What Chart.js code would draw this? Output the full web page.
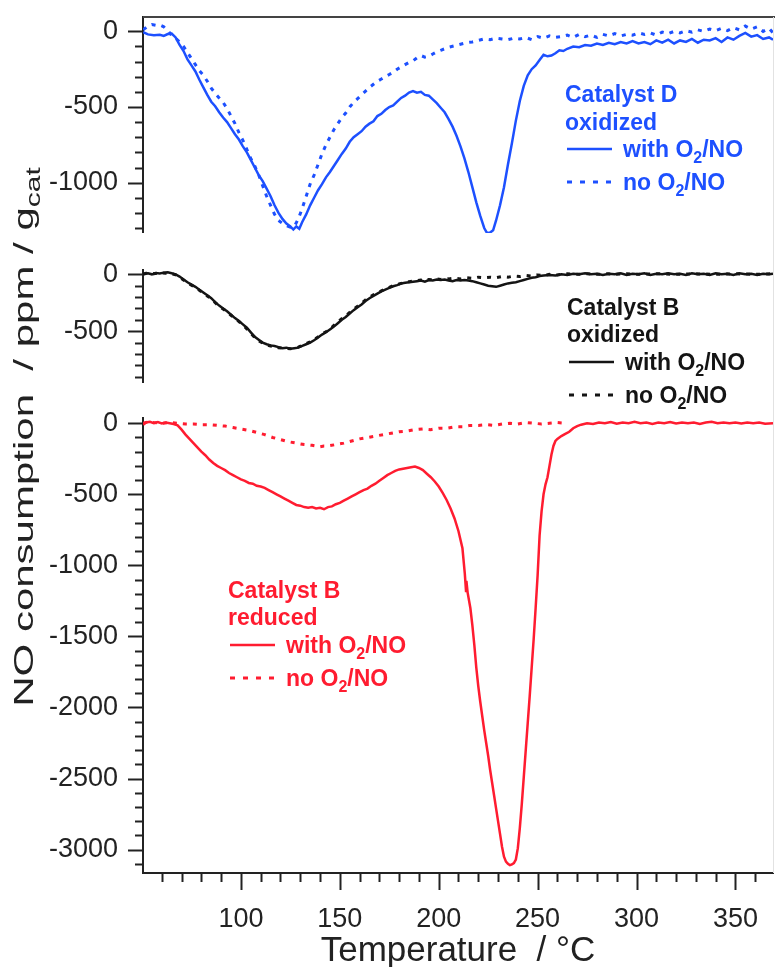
<!DOCTYPE html>
<html>
<head>
<meta charset="utf-8">
<script src="https://cdn.jsdelivr.net/npm/chart.js@4.4.0/dist/chart.umd.min.js"></script>
<style>
  html, body { margin: 0; padding: 0; background: #fff; }
  #wrap { width: 775px; height: 967px; }
</style>
</head>
<body>
<div id="wrap"><canvas id="noChart" width="775" height="967"></canvas></div>
<script>
// temperature axis
const tempMin = 50.5;
const tempMax = 369;
const tempLabels = [100, 150, 200, 250, 300, 350];
const tempMinor = [60, 70, 80, 90, 100, 110, 120, 130, 140, 150, 160, 170, 180, 190, 200, 210, 220, 230, 240, 250,
  260, 270, 280, 290, 300, 310, 320, 330, 340, 350, 360];

// NO consumption axes (ppm / g_cat), one per panel
const topRange = [-1333, 95];
const midRange = [-947, 38];
const botRange = [-3165, 37];
const topLabels = [0, -500, -1000];
const midLabels = [0, -500];
const botLabels = [0, -500, -1000, -1500, -2000, -2500, -3000];
const topMinor = [0, -100, -200, -300, -400, -500, -600, -700, -800, -900, -1000, -1100, -1200, -1300];
const midMinor = [0, -100, -200, -300, -400, -500, -600, -700, -800, -900];
const botMinor = [0, -100, -200, -300, -400, -500, -600, -700, -800, -900, -1000, -1100, -1200, -1300, -1400, -1500,
  -1600, -1700, -1800, -1900, -2000, -2100, -2200, -2300, -2400, -2500, -2600, -2700, -2800, -2900, -3000, -3100];

// Catalyst D oxidized, with O2/NO
const dOxWithT = [50.6, 53, 56, 59, 61, 63, 65, 67, 69, 71, 73, 75, 77, 79, 81, 83, 85, 87, 89, 91, 93, 95, 97, 99,
  101, 103, 105, 107, 109, 111, 113, 115, 117, 119, 121, 123, 125, 126.5, 128, 129.5, 131, 133, 135, 137, 139, 141,
  143, 145, 147, 149, 151, 153, 155, 157, 159, 161, 163, 165, 167, 169, 171, 173, 175, 177, 179, 181, 183, 185, 187,
  189, 191, 193, 195, 197, 199, 201, 203, 205, 207, 209, 211, 213, 215, 217, 219, 221, 223, 224.5, 226, 227.5, 229,
  231, 233, 235, 237, 239, 241, 243, 245, 247, 249, 251, 253, 255, 257, 259, 261, 263, 265, 268, 271, 274, 277, 280,
  283, 286, 289, 292, 295, 298, 301, 304, 307, 310, 313, 316, 319, 322, 325, 328, 331, 334, 337, 340, 343, 346, 349,
  352, 355, 358, 361, 364, 367, 369];
const dOxWith = [-5, -20, -25, -22, -30, -18, -15, -40, -90, -130, -185, -225, -265, -320, -370, -420, -465, -495,
  -535, -570, -600, -640, -680, -715, -760, -800, -850, -900, -950, -990, -1040, -1090, -1150, -1200, -1240, -1270,
  -1290, -1310, -1290, -1305, -1260, -1210, -1150, -1100, -1050, -1010, -965, -930, -890, -850, -810, -775, -730,
  -700, -680, -660, -630, -610, -595, -560, -545, -520, -500, -490, -465, -440, -425, -405, -395, -405, -400, -420,
  -425, -450, -475, -505, -535, -580, -630, -690, -760, -840, -930, -1030, -1130, -1220, -1300, -1335, -1330, -1315,
  -1250, -1150, -1030, -880, -740, -590, -460, -360, -290, -250, -225, -190, -155, -165, -160, -145, -125, -130, -115,
  -100, -105, -90, -95, -80, -90, -75, -85, -70, -80, -65, -80, -70, -85, -60, -75, -55, -80, -60, -70, -50, -75, -55,
  -60, -45, -70, -40, -55, -30, -10, -35, -25, -50, -40, -55];

// Catalyst D oxidized, no O2/NO
const dOxNoT = [50.6, 53, 55, 57, 59, 61, 63, 65, 67, 69, 71, 73, 75, 77, 79, 81, 83, 85, 87, 89, 91, 93, 95, 97, 99,
  101, 103, 105, 107, 109, 111, 113, 115, 117, 119, 121, 123, 125, 127, 129, 131, 133, 135, 137, 139, 141, 143, 145,
  147, 149, 151, 153, 155, 157, 159, 161, 163, 165, 167, 169, 171, 173, 175, 177, 179, 181, 183, 185, 187, 189, 191,
  193, 195, 197, 199, 201, 203, 205, 208, 211, 214, 217, 220, 223, 226, 229, 232, 235, 238, 241, 244, 247, 250, 253,
  256, 259, 262, 265, 268, 271, 274, 277, 280, 283, 286, 289, 292, 295, 298, 301, 304, 307, 310, 313, 316, 319, 322,
  325, 328, 331, 334, 337, 340, 343, 346, 349, 352, 355, 358, 361, 364, 367, 369];
const dOxNo = [10, 35, 45, 40, 42, 30, 5, -25, -45, -70, -100, -140, -180, -220, -260, -290, -330, -375, -410, -440,
  -470, -510, -560, -610, -670, -720, -780, -840, -890, -950, -1020, -1090, -1150, -1210, -1250, -1270, -1285, -1295,
  -1290, -1240, -1170, -1090, -1010, -950, -880, -810, -750, -700, -650, -610, -570, -540, -500, -470, -445, -420,
  -395, -370, -350, -330, -315, -300, -285, -270, -250, -235, -220, -205, -195, -175, -160, -170, -165, -150, -135,
  -125, -115, -105, -95, -85, -75, -70, -60, -50, -55, -45, -50, -55, -45, -50, -40, -55, -35, -45, -30, -40, -35,
  -25, -40, -20, -35, -25, -40, -20, -30, -15, -30, -20, -25, -10, -20, -10, -25, -5, -15, 0, -10, 5, -5, 10, 0, 15,
  5, 20, 5, 25, 10, 35, 15, 30, 0, 20, -10];

// Catalyst B oxidized, with O2/NO
const bOxWithT = [50.6, 53, 55, 57, 59, 61, 63, 65, 67, 69, 71, 73, 75, 77, 79, 81, 83, 85, 87, 89, 91, 93, 95, 97,
  99, 101, 103, 105, 107, 109, 111, 113, 115, 117, 119, 121, 123, 125, 127, 129, 131, 133, 135, 137, 139, 141, 143,
  145, 147, 149, 151, 153, 155, 157, 159, 161, 163, 165, 167, 169, 171, 173, 175, 177, 179, 181, 183, 185, 187, 189,
  191, 193, 195, 197, 199, 201, 203, 205, 207, 209, 211, 213, 215, 217, 219, 221, 223, 225, 227, 229, 231, 233, 235,
  237, 239, 241, 243, 245, 247, 249, 251, 253, 256, 259, 262, 265, 268, 271, 274, 277, 280, 283, 286, 289, 292, 295,
  298, 301, 304, 307, 310, 313, 316, 319, 322, 325, 328, 331, 334, 337, 340, 343, 346, 349, 352, 355, 358, 361, 364,
  367, 369];
const bOxWith = [5, 10, 0, 12, 8, 15, 18, 10, 0, -20, -45, -70, -90, -110, -135, -160, -185, -210, -245, -275, -300,
  -325, -355, -385, -410, -440, -470, -510, -550, -575, -600, -615, -625, -630, -640, -650, -645, -655, -650, -645,
  -630, -615, -600, -580, -555, -530, -510, -485, -460, -430, -400, -375, -345, -315, -290, -265, -235, -210, -190,
  -170, -150, -135, -120, -105, -95, -80, -75, -70, -65, -60, -55, -65, -50, -55, -45, -50, -45, -55, -60, -50, -55,
  -50, -55, -60, -70, -80, -90, -100, -105, -110, -100, -90, -80, -75, -70, -60, -50, -40, -30, -25, -15, -10, -5,
  -10, 0, -5, 5, 0, 10, 0, 5, -5, 5, 0, 10, -5, 5, 0, 10, -5, 5, 0, 10, 0, 5, -5, 10, 0, 5, -5, 10, 0, 5, -5, 10, 0,
  5, -5, 5, 0, 5];

// Catalyst B oxidized, no O2/NO
const bOxNoT = [50.6, 53, 56, 59, 62, 65, 67, 69, 71, 73, 75, 77, 79, 81, 83, 85, 87, 89, 91, 93, 95, 97, 99, 101,
  103, 105, 107, 109, 111, 113, 115, 117, 119, 121, 123, 125, 127, 129, 131, 133, 135, 137, 139, 141, 143, 145, 147,
  149, 151, 153, 155, 157, 159, 161, 163, 165, 167, 169, 171, 173, 175, 177, 179, 181, 183, 185, 187, 189, 191, 193,
  195, 197, 199, 201, 203, 205, 208, 211, 214, 217, 220, 223, 226, 229, 232, 235, 238, 241, 244, 247, 250, 253, 256,
  260, 265, 270, 275, 280, 285, 290, 295, 300, 310, 320, 330, 340, 350, 360, 369];
const bOxNo = [0, 15, 5, 15, 10, 5, -5, -25, -50, -75, -95, -115, -140, -165, -190, -215, -250, -280, -305, -330,
  -360, -390, -415, -445, -480, -520, -555, -585, -605, -620, -630, -635, -645, -650, -650, -655, -650, -640, -625,
  -610, -595, -575, -550, -525, -505, -480, -450, -420, -390, -365, -335, -305, -280, -255, -225, -200, -180, -160,
  -145, -130, -115, -100, -90, -80, -70, -65, -60, -55, -50, -55, -45, -50, -40, -45, -40, -40, -35, -40, -30, -35,
  -25, -30, -25, -30, -20, -25, -15, -20, -10, -15, -5, -10, 0, -5, 5, 0, 5, 0, 5, 0, 5, 0, 5, 0, 5, 0, 5, 0, 5];

// Catalyst B reduced, with O2/NO
const bRedWithT = [50.6, 52, 54, 56, 58, 60, 62, 64, 66, 68, 70, 72, 74, 76, 78, 80, 82, 84, 86, 88, 90, 92, 94, 96,
  98, 100, 102, 104, 106, 108, 110, 112, 114, 116, 118, 120, 122, 124, 126, 128, 130, 132, 134, 136, 138, 140, 142,
  144, 146, 148, 150, 152, 154, 156, 158, 160, 162, 164, 166, 168, 170, 172, 174, 176, 178, 180, 182, 184, 186, 188,
  190, 192, 194, 196, 198, 200, 202, 204, 206, 208, 210, 212, 213.2, 213.8, 214, 214.6, 216, 217, 218, 219, 220, 221,
  222, 223, 224, 225, 226, 227, 228, 229, 230, 231, 232, 233, 234, 235, 236, 237, 238, 239, 240, 241, 242, 243, 244,
  245, 246, 247, 248, 249, 250, 251, 252, 253, 254, 255, 256, 257, 258, 259, 260, 262, 264, 266, 268, 270, 272, 275,
  278, 281, 284, 287, 290, 293, 296, 299, 302, 305, 308, 311, 314, 317, 320, 323, 326, 329, 332, 335, 338, 341, 344,
  347, 350, 353, 356, 359, 362, 365, 369];
const bRedWith = [-10, 5, 10, 0, 8, -2, 5, 0, -5, -15, -45, -80, -110, -140, -170, -200, -225, -255, -280, -300, -315,
  -330, -350, -365, -380, -395, -405, -420, -425, -440, -445, -455, -470, -485, -500, -515, -530, -545, -560, -575,
  -580, -590, -595, -590, -600, -595, -605, -590, -585, -570, -560, -545, -530, -515, -500, -485, -470, -460, -440,
  -425, -405, -385, -365, -350, -335, -325, -320, -315, -310, -305, -315, -330, -355, -380, -410, -445, -490, -540,
  -600, -670, -760, -880, -1060, -1180, -1110, -1190, -1300, -1420, -1560, -1720, -1850, -1960, -2060, -2160, -2250,
  -2340, -2440, -2530, -2620, -2710, -2800, -2890, -2980, -3050, -3085, -3100, -3110, -3105, -3095, -3070, -2990,
  -2850, -2680, -2490, -2300, -2110, -1920, -1720, -1520, -1300, -1070, -790, -620, -500, -430, -380, -300, -220,
  -160, -125, -110, -90, -75, -60, -35, -20, -10, 0, -5, 5, 0, 8, -3, 5, 0, 10, 0, 5, -5, 5, 0, 8, -2, 5, 0, 5, -5, 5,
  10, 0, 5, 0, 5, -2, 5, 0, 5, -3, 0];

// Catalyst B reduced, no O2/NO
const bRedNoT = [50.6, 53, 56, 60, 64, 68, 72, 76, 80, 84, 88, 92, 96, 100, 104, 108, 112, 116, 120, 124, 128, 132,
  136, 140, 142, 144, 148, 152, 156, 160, 164, 168, 172, 176, 180, 184, 188, 192, 196, 200, 204, 208, 212, 216, 220,
  224, 228, 232, 236, 240, 244, 248, 252, 256, 260, 264];
const bRedNo = [0, 10, 5, 0, 5, 0, -5, -5, -10, -10, -15, -20, -30, -40, -50, -65, -80, -100, -115, -130, -140, -150,
  -155, -165, -160, -160, -150, -140, -125, -110, -100, -90, -80, -70, -60, -55, -45, -40, -45, -35, -35, -25, -25,
  -15, -15, -10, -15, -5, 0, -5, 5, 0, -5, 0, 5, 0];

const blue = '#1d50ff';
const red = '#ff1c30';
const black = '#141414';
const axisColor = '#222222';
const fontFamily = "'Liberation Sans', Arial, sans-serif";

const pts = (t, v) => t.map((x, i) => ({ x: x, y: v[i] }));

const solid = (label, color, axis, t, v) => ({
  label: label, data: pts(t, v), yAxisID: axis, borderColor: color, borderWidth: 2.5,
  pointRadius: 0, tension: 0, fill: false
});
const dotted = (label, color, axis, t, v) => ({
  label: label, data: pts(t, v), yAxisID: axis, borderColor: color, borderWidth: 3,
  borderDash: [4, 6], pointRadius: 0, tension: 0, fill: false
});

// every value axis is 143px wide and adds no label overhang above/below
const fixWidth = (s) => { s.width = 143; s.paddingTop = 0; s.paddingBottom = 0; };
const valueAxis = (range, labels, weight, stackWeight) => ({
  type: 'linear', position: 'left', stack: 'panels', stackWeight: stackWeight, weight: weight,
  min: range[0], max: range[1],
  afterBuildTicks: (s) => { s.ticks = labels.map(v => ({ value: v })); },
  afterFit: fixWidth,
  grid: { display: false, drawTicks: false },
  border: { display: true, color: axisColor, width: 2 },
  ticks: { padding: 25, color: axisColor, font: { family: fontFamily, size: 27 }, callback: (v) => String(v) }
});
const gapAxis = (weight, stackWeight) => ({
  type: 'linear', position: 'left', stack: 'panels', stackWeight: stackWeight, weight: weight,
  min: 0, max: 1, afterFit: fixWidth,
  grid: { display: false, drawTicks: false }, border: { display: false }, ticks: { display: false }
});

// minor / major tick marks on every axis
const tickMarks = {
  id: 'tickMarks',
  afterDraw(chart) {
    const ctx = chart.ctx;
    const area = chart.chartArea;
    const panels = [
      { id: 'yTop', minor: topMinor, labels: topLabels },
      { id: 'yMid', minor: midMinor, labels: midLabels },
      { id: 'yBot', minor: botMinor, labels: botLabels }
    ];
    ctx.save();
    ctx.strokeStyle = axisColor;
    ctx.lineWidth = 2;
    panels.forEach(p => {
      const sc = chart.scales[p.id];
      p.minor.forEach(v => {
        const y = Math.round(sc.getPixelForValue(v)) + 0.5;
        const len = p.labels.includes(v) ? 15 : 8;
        ctx.beginPath();
        ctx.moveTo(sc.right - len, y);
        ctx.lineTo(sc.right, y);
        ctx.stroke();
      });
    });
    const xs = chart.scales.x;
    tempMinor.forEach(v => {
      const x = Math.round(xs.getPixelForValue(v)) + 0.5;
      const len = tempLabels.includes(v) ? 17 : 9;
      ctx.beginPath();
      ctx.moveTo(x, xs.top);
      ctx.lineTo(x, xs.top + len);
      ctx.stroke();
    });
    // frame line along the top of the upper panel
    ctx.strokeStyle = '#444444';
    ctx.beginPath();
    ctx.moveTo(area.left, area.top);
    ctx.lineTo(chart.width, area.top);
    ctx.stroke();
    // faint right edge
    ctx.strokeStyle = '#e2e2e2';
    ctx.lineWidth = 1;
    ctx.beginPath();
    ctx.moveTo(area.right + 0.5, area.top);
    ctx.lineTo(area.right + 0.5, area.bottom);
    ctx.stroke();
    ctx.restore();
  }
};

// text pieces: [string, isSubscript]
function drawRich(ctx, parts, x, y, size, bold, subSize, subDrop) {
  let cx = x;
  parts.forEach(([txt, sub]) => {
    ctx.font = (bold ? 'bold ' : '') + (sub ? subSize : size) + 'px ' + fontFamily;
    ctx.fillText(txt, cx, sub ? y + subDrop : y);
    cx += ctx.measureText(txt).width;
  });
}

const legendBlocks = [
  { color: blue, x: 565, title: ['Catalyst D', 'oxidized'], base: [102, 130, 157, 190] },
  { color: black, x: 567, title: ['Catalyst B', 'oxidized'], base: [315, 342, 370, 403] },
  { color: red, x: 228, title: ['Catalyst B', 'reduced'], base: [598, 625, 653, 686] }
];
const withLabel = [['with O', false], ['2', true], ['/NO', false]];
const noLabel = [['no O', false], ['2', true], ['/NO', false]];
const yTitle = [['NO consumption  / ppm / g', false], ['cat', true]];

const annotations = {
  id: 'annotations',
  afterDraw(chart) {
    const ctx = chart.ctx;
    ctx.save();
    ctx.textBaseline = 'alphabetic';
    legendBlocks.forEach(b => {
      ctx.fillStyle = b.color;
      ctx.strokeStyle = b.color;
      drawRich(ctx, [[b.title[0], false]], b.x, b.base[0], 23, true, 16, 6);
      drawRich(ctx, [[b.title[1], false]], b.x, b.base[1], 23, true, 16, 6);
      const ly1 = b.base[2] - 8;
      const ly2 = b.base[3] - 8;
      ctx.lineWidth = 2.5;
      ctx.setLineDash([]);
      ctx.beginPath(); ctx.moveTo(b.x + 2, ly1); ctx.lineTo(b.x + 47, ly1); ctx.stroke();
      ctx.lineWidth = 3;
      ctx.setLineDash([5, 8]);
      ctx.beginPath(); ctx.moveTo(b.x + 2, ly2); ctx.lineTo(b.x + 47, ly2); ctx.stroke();
      ctx.setLineDash([]);
      drawRich(ctx, withLabel, b.x + 58, b.base[2], 23, true, 16, 6);
      drawRich(ctx, noLabel, b.x + 58, b.base[3], 23, true, 16, 6);
    });
    // shared value-axis title, running up the left side
    const sx = 1.5;
    ctx.fillStyle = axisColor;
    ctx.font = '28px ' + fontFamily;
    const wMain = ctx.measureText(yTitle[0][0]).width;
    ctx.font = '20px ' + fontFamily;
    const wSub = ctx.measureText(yTitle[1][0]).width;
    ctx.translate(33, 437);
    ctx.rotate(-Math.PI / 2);
    ctx.scale(sx, 1);
    ctx.font = '28px ' + fontFamily;
    const start = -(wMain + wSub) / 2;
    ctx.fillText(yTitle[0][0], start, 0);
    ctx.font = '20px ' + fontFamily;
    ctx.fillText(yTitle[1][0], start + wMain, 7);
    ctx.restore();
  }
};

new Chart(document.getElementById('noChart'), {
  type: 'line',
  data: {
    datasets: [
      solid('Catalyst D oxidized, with O2/NO', blue, 'yTop', dOxWithT, dOxWith),
      dotted('Catalyst D oxidized, no O2/NO', blue, 'yTop', dOxNoT, dOxNo),
      solid('Catalyst B oxidized, with O2/NO', black, 'yMid', bOxWithT, bOxWith),
      dotted('Catalyst B oxidized, no O2/NO', black, 'yMid', bOxNoT, bOxNo),
      dotted('Catalyst B reduced, no O2/NO', red, 'yBot', bRedNoT, bRedNo),
      solid('Catalyst B reduced, with O2/NO', red, 'yBot', bRedWithT, bRedWith)
    ]
  },
  options: {
    responsive: false,
    animation: false,
    events: [],
    layout: { padding: { top: 17, right: 2, left: 0, bottom: 0 } },
    plugins: { legend: { display: false }, tooltip: { enabled: false } },
    scales: {
      x: {
        type: 'linear', position: 'bottom', min: tempMin, max: tempMax,
        afterBuildTicks: (s) => { s.ticks = tempLabels.map(v => ({ value: v })); },
        afterFit: (s) => { s.height = 94; s.paddingLeft = 0; s.paddingRight = 0; },
        grid: { display: false, drawTicks: false },
        border: { display: true, color: axisColor, width: 2 },
        ticks: {
          padding: 30, autoSkip: false, maxRotation: 0, color: axisColor,
          font: { family: fontFamily, size: 27 }, callback: (v) => String(v)
        },
        title: {
          display: true, text: 'Temperature  / °C', color: axisColor,
          font: { family: fontFamily, size: 35, lineHeight: 0.9 }, padding: { top: 0, bottom: 0 }
        }
      },
      yTop: valueAxis(topRange, topLabels, 5, 216),
      gap1: gapAxis(4, 37),
      yMid: valueAxis(midRange, midLabels, 3, 112),
      gap2: gapAxis(2, 36),
      yBot: valueAxis(botRange, botLabels, 1, 455)
    }
  },
  plugins: [tickMarks, annotations]
});
</script>
</body>
</html>
